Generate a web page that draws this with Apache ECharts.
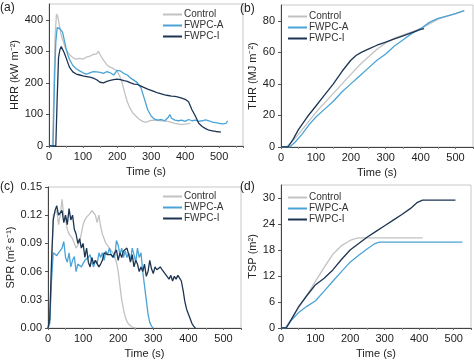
<!DOCTYPE html>
<html><head><meta charset="utf-8">
<script src="https://cdn.jsdelivr.net/npm/echarts@6/dist/echarts.min.js"></script>
<style>html,body{margin:0;padding:0;background:#fff}#c{width:474px;height:360px}</style>
</head><body><div id="c"></div>
<script>
var seriesNames = ['Control', 'FWPC-A', 'FWPC-I'];
var xTicks = [0, 100, 200, 300, 400, 500];

// (a) HRR
var hrrControlT = [0,10,14,18,22,26,30,36,42,50,60,70,80,90,100,110,120,130,140,145,150,158,165,172,180,190,200,208,215,222,230,238,246,255,265,275,285,295,310,330,350,370,390,405,415];
var hrrControlV = [0,0,150,350,418,410,385,350,330,305,290,280,275,278,275,282,285,290,292,300,290,275,265,255,250,245,238,220,200,170,140,120,105,95,85,78,75,80,82,80,78,72,68,70,72];
var hrrAT = [0,12,16,20,24,28,32,36,40,45,50,55,60,70,80,90,100,110,120,130,140,150,160,170,180,190,200,205,210,220,230,240,250,260,270,280,290,300,310,320,330,340,350,355,360,370,380,390,400,410,420,430,440,450,460,470,480,490,500,510,520,525];
var hrrAV = [0,0,200,330,375,370,372,368,360,335,310,290,275,255,245,238,232,228,232,236,235,233,230,236,232,225,240,245,238,230,225,215,208,200,185,150,115,95,85,82,84,80,90,100,88,82,80,82,78,84,80,82,78,80,83,80,76,74,72,70,72,80];
var hrrIT = [0,10,20,24,28,32,36,40,45,50,55,60,70,80,90,100,110,120,130,140,150,155,160,170,180,190,200,210,220,230,240,250,260,270,280,290,300,310,320,330,340,350,360,370,380,390,400,410,420,430,440,450,460,470,480,490,500,505];
var hrrIV = [0,0,0,150,280,305,315,310,295,280,265,250,235,228,225,222,220,218,215,210,202,198,200,205,208,210,212,210,207,205,200,196,195,190,185,180,176,172,168,165,162,160,158,157,155,152,148,140,115,95,72,62,55,50,48,46,45,44];

// (b) THR
var thrControlT = [0,15,30,50,75,100,125,150,175,200,225,250,275,300,325,350,375,400,425,450,475,500,525];
var thrControlV = [0,0,3,8,15,22,28,34,40,46,52,57,62,66,69,71,73,75,78,81,83,84.5,86.5];
var thrAT = [0,25,40,60,80,100,125,150,175,200,225,250,275,300,325,350,375,400,425,450,475,500,525];
var thrAV = [0,0,3,8,14,19,24,29,35,40,45,50,55,59,64,68,72,75,79,81.5,83,84.5,86.5];
var thrIT = [0,20,35,50,75,100,125,150,175,200,215,230,250,275,300,325,350,375,400,410];
var thrIV = [0,0,5,11,19,26,33,40,48,55,58,60,62,64.5,66.5,68.5,70.5,72.5,74.5,75];

// (c) SPR
var sprControlT = [0,5,10,15,20,25,30,35,40,45,50,55,60,65,70,75,80,85,90,95,100,105,110,115,120,125,130,135,140,145,150,155,160,165,170,175,180,185,190,195,200,205,210,215,220,225,230,235,240,250];
var sprControlV = [0,0.005,0.06,0.12,0.118,0.125,0.11,0.12,0.137,0.12,0.115,0.105,0.1,0.098,0.095,0.09,0.085,0.088,0.092,0.1,0.11,0.115,0.118,0.12,0.122,0.125,0.127,0.12,0.112,0.12,0.108,0.1,0.095,0.09,0.088,0.085,0.086,0.08,0.075,0.07,0.06,0.045,0.03,0.02,0.012,0.007,0.004,0.002,0.001,0];
var sprAT = [0,5,10,15,20,25,30,35,40,45,50,55,60,65,70,75,80,85,90,95,100,105,110,115,120,125,130,135,140,145,150,155,160,165,170,175,180,185,190,195,200,205,210,215,220,225,230,235,240,245,250,255,260,265,270,275,280,285,290,295,300];
var sprAV = [0,0.005,0.05,0.08,0.082,0.077,0.08,0.078,0.085,0.092,0.075,0.07,0.08,0.065,0.072,0.076,0.06,0.068,0.07,0.065,0.067,0.072,0.07,0.075,0.078,0.07,0.065,0.072,0.068,0.08,0.075,0.08,0.072,0.082,0.078,0.085,0.078,0.08,0.075,0.093,0.088,0.078,0.085,0.075,0.082,0.075,0.08,0.072,0.085,0.078,0.07,0.085,0.075,0.08,0.06,0.045,0.03,0.015,0.006,0.002,0];
var sprIT = [0,5,10,15,20,25,30,35,40,45,50,55,60,65,70,75,80,85,90,95,100,105,110,115,120,125,130,135,140,145,150,155,160,165,170,175,180,185,190,195,200,205,210,215,220,225,230,235,240,245,250,255,260,265,270,275,280,285,290,295,300,305,310,315,320,325,330,335,340,345,350,355,360,365,370,375,380,385,390,395,400,405,410,415,420];
var sprIV = [0,0.01,0.07,0.115,0.125,0.13,0.12,0.118,0.125,0.112,0.12,0.11,0.127,0.115,0.12,0.105,0.1,0.09,0.095,0.085,0.09,0.075,0.085,0.07,0.065,0.075,0.068,0.072,0.07,0.065,0.068,0.072,0.08,0.082,0.078,0.08,0.078,0.075,0.08,0.083,0.072,0.08,0.075,0.082,0.08,0.085,0.078,0.07,0.078,0.065,0.072,0.068,0.06,0.065,0.06,0.068,0.055,0.06,0.072,0.063,0.058,0.065,0.062,0.06,0.065,0.062,0.06,0.057,0.055,0.052,0.056,0.05,0.055,0.052,0.056,0.053,0.05,0.04,0.028,0.02,0.015,0.01,0.005,0.002,0];

// (d) TSP
var tspControlT = [0,12,30,50,75,100,125,150,175,200,215,225,250,300,350,410];
var tspControlV = [0,0,2,4.5,7.5,10.8,14,17,19,20.2,20.6,20.8,20.8,20.8,20.8,20.8];
var tspAT = [0,15,30,50,75,100,125,150,175,200,225,250,270,285,300,400,525];
var tspAV = [0,0,1.8,3.5,5,6.3,8.5,10.8,13,15.2,16.8,18.3,19.4,19.8,19.8,19.8,19.8];
var tspIT = [0,15,30,50,75,90,100,125,150,175,200,225,250,275,300,325,350,375,395,410,420,505];
var tspIV = [0,0,2,4.8,7.5,9,10,11.5,13.4,15.8,18,19.5,21,22.3,23.6,24.9,26.2,27.6,29,29.5,29.5,29.5];

var colors = ['#c2c2c2', '#4aa3d6', '#1d3553'];

function pairs(t, v) { return t.map(function (x, i) { return [x, v[i]]; }); }

var font = 'Liberation Sans, Arial, sans-serif';
var grids = [
  {left: 49, top: 4, width: 194, height: 142},
  {left: 281, top: 5, width: 192, height: 142},
  {left: 48, top: 187, width: 193, height: 142},
  {left: 281, top: 185, width: 190, height: 144}
];
var xMax = [570, 550, 550, 550];
grids.forEach(function (g) { g.show = true; g.borderColor = '#c8c8c8'; g.borderWidth = 1; g.containLabel = false; });

function xAxis(i) {
  return {
    gridIndex: i, type: 'value', min: 0, max: xMax[i], interval: 100,
    name: 'Time (s)', nameLocation: 'middle', nameGap: 20,
    nameTextStyle: {fontFamily: font, fontSize: 11, color: '#222'},
    axisLine: {lineStyle: {color: '#444'}},
    axisTick: {show: true, length: 2, lineStyle: {color: '#666'}},
    minorTick: {show: true, splitNumber: 2, length: 2, lineStyle: {color: '#888'}},
    axisLabel: {fontFamily: font, fontSize: 11, color: '#222', margin: 5, showMaxLabel: false,
      formatter: function (v) { return xTicks.indexOf(v) >= 0 ? String(v) : ''; }},
    splitLine: {show: false}
  };
}
function yAxis(i, max, interval, name, gap, fmt, showMax) {
  return {
    gridIndex: i, type: 'value', min: 0, max: max, interval: interval,
    name: name, nameLocation: 'middle', nameGap: gap,
    nameTextStyle: {fontFamily: font, fontSize: 11, color: '#222'},
    axisLine: {show: true, lineStyle: {color: '#444'}},
    axisTick: {show: true, inside: false, length: 3, lineStyle: {color: '#555'}},
    axisLabel: {fontFamily: font, fontSize: 11, color: '#222', margin: 6, showMaxLabel: !!showMax,
      formatter: fmt},
    splitLine: {show: false}
  };
}

var data = [
  [[hrrControlT, hrrControlV], [hrrAT, hrrAV], [hrrIT, hrrIV]],
  [[thrControlT, thrControlV], [thrAT, thrAV], [thrIT, thrIV]],
  [[sprControlT, sprControlV], [sprAT, sprAV], [sprIT, sprIV]],
  [[tspControlT, tspControlV], [tspAT, tspAV], [tspIT, tspIV]]
];
var series = [];
data.forEach(function (panel, gi) {
  panel.forEach(function (s, si) {
    series.push({
      name: seriesNames[si], type: 'line', xAxisIndex: gi, yAxisIndex: gi,
      data: pairs(s[0], s[1]), symbol: 'none', smooth: false,
      lineStyle: {color: colors[si], width: 1.3}, itemStyle: {color: colors[si]},
      z: si === 0 ? 2 : 3
    });
  });
});

function legend(left, top) {
  return {
    left: left, top: top, orient: 'vertical', padding: 0, itemGap: 0,
    itemWidth: 19, itemHeight: 2, icon: 'rect',
    textStyle: {fontFamily: font, fontSize: 10, color: '#333', lineHeight: 11, padding: [0, 0, 0, -3]},
    data: seriesNames, selectedMode: false
  };
}

var option = {
  animation: false,
  grid: grids,
  xAxis: [xAxis(0), xAxis(1), xAxis(2), xAxis(3)],
  yAxis: [
    yAxis(0, 450, 100, 'HRR (kW m\u207B\u00B2)', 14),
    yAxis(1, 90, 20, 'THR (MJ m\u207B\u00B2)', 18),
    yAxis(2, 0.15, 0.03, 'SPR (m\u00B2 s\u207B\u00B9)', 18, function (v) { return v.toFixed(2); }, true),
    yAxis(3, 33, 6, 'TSP (m\u00B2)', 18)
  ],
  legend: [legend(163, 9), legend(288, 11), legend(163, 191), legend(288, 192)],
  graphic: [
    {type: 'text', left: 0, top: 2, style: {text: '(a)', font: '12px Liberation Sans, Arial', fill: '#222'}},
    {type: 'text', left: 240, top: 3, style: {text: '(b)', font: '12px Liberation Sans, Arial', fill: '#222'}},
    {type: 'text', left: 0, top: 181, style: {text: '(c)', font: '12px Liberation Sans, Arial', fill: '#222'}},
    {type: 'text', left: 240, top: 181, style: {text: '(d)', font: '12px Liberation Sans, Arial', fill: '#222'}}
  ],
  series: series
};
var chart = echarts.init(document.getElementById('c'), null, {renderer: 'canvas'});
chart.setOption(option);
</script></body></html>
